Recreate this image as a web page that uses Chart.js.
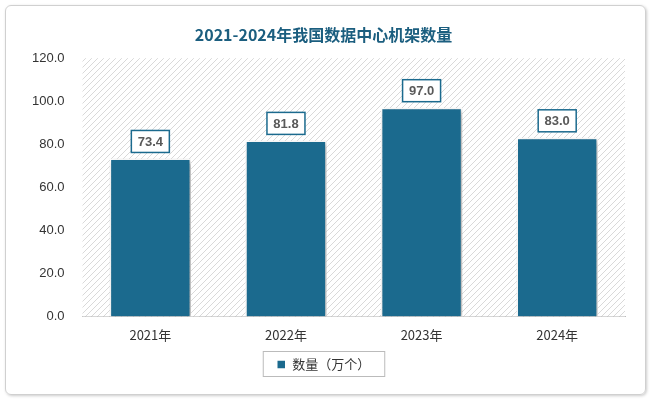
<!DOCTYPE html>
<html><head><meta charset="utf-8">
<script src="https://cdn.jsdelivr.net/npm/chart.js@4"></script>
<style>
body{margin:0;background:#fff;}
#wrap{position:absolute;left:5px;top:5px;width:639px;height:388px;border:1px solid #d0d0d0;border-radius:6px;box-shadow:1px 1px 3px #ccc;}
canvas{position:absolute;left:0;top:0;}
</style></head><body>
<div id="wrap"></div>
<canvas id="c" width="651" height="400"></canvas>
<script>
const categories=["2021年","2022年","2023年","2024年"];
const values=[73.4,81.8,97.0,83.0];
const yTicks=[0,20,40,60,80,100,120];
const seriesName="数量（万个）";

const hatch=(()=>{const p=document.createElement('canvas');p.width=6;p.height=6;const g=p.getContext('2d');
g.fillStyle='#fff';g.fillRect(0,0,6,6);g.strokeStyle='#d9d9d9';g.lineWidth=1;
g.beginPath();g.moveTo(0,6);g.lineTo(6,0);g.moveTo(-3,3);g.lineTo(3,-3);g.moveTo(3,9);g.lineTo(9,3);g.stroke();
return document.getElementById('c').getContext('2d').createPattern(p,'repeat');})();

const bgPlugin={id:'bg',beforeDatasetsDraw(ch){const a=ch.chartArea,x=ch.ctx;x.save();x.fillStyle=hatch;x.fillRect(a.left,a.top,a.right-a.left,a.bottom-a.top);x.restore();}};
const labelPlugin={id:'lbl',afterDatasetsDraw(ch){const x=ch.ctx;const m=ch.getDatasetMeta(0);x.save();
x.font='bold 13px "Liberation Sans", Arial';x.textAlign='center';x.textBaseline='middle';
m.data.forEach((b,i)=>{const t=values[i].toFixed(1);const w=38,h=22;const cx=b.x,cy=b.y-17;
x.fillStyle='#fff';x.fillRect(cx-w/2,cy-h/2,w,h);x.strokeStyle='#1b6a8e';x.lineWidth=1.5;x.strokeRect(cx-w/2,cy-h/2,w,h);
x.fillStyle='#595959';x.fillText(t,cx,cy+1);});x.restore();}};
const shadowPlugin={id:'sh',beforeDatasetDraw(ch){const x=ch.ctx;x.save();x.shadowColor='rgba(0,0,0,0.35)';x.shadowBlur=5;x.shadowOffsetX=2;x.shadowOffsetY=2;},afterDatasetDraw(ch){ch.ctx.restore();}};

new Chart(document.getElementById('c'),{type:'bar',
data:{labels:categories,datasets:[{label:seriesName,data:values,backgroundColor:'#1b6a8e',borderColor:'#fff',borderWidth:1.5,categoryPercentage:0.6,barPercentage:1.0}]},
options:{responsive:false,animation:false,devicePixelRatio:1,
layout:{padding:{left:22,right:26,top:13,bottom:19}},
plugins:{title:{display:true,text:'2021-2024年我国数据中心机架数量',color:'#1b5e7f',font:{size:16,weight:'bold',family:'"Noto Sans CJK SC"'},padding:{top:12,bottom:14}},
legend:{position:'bottom',labels:{color:'#333',font:{size:13,family:'"Noto Sans CJK SC"'},boxWidth:9,boxHeight:9,padding:12}},tooltip:{enabled:false}},
scales:{x:{grid:{display:false},border:{color:'#bbb'},ticks:{color:'#333',font:{size:13,family:'"Noto Sans CJK SC"'}}},
y:{min:0,max:120,grid:{display:false},border:{display:false},afterBuildTicks(a){a.ticks=yTicks.map(v=>({value:v}));},
ticks:{color:'#333',font:{size:13,family:'"Liberation Sans"'},padding:10,callback:v=>v.toFixed(1)}}}},
plugins:[bgPlugin,shadowPlugin,labelPlugin,{id:'legbox',afterDraw(ch){const l=ch.legend;const x=ch.ctx;x.save();x.strokeStyle='#bbb';x.lineWidth=1;x.strokeRect(l.left+ (l.width-l.legendHitBoxes[0].width)/2-14+0.5,l.top+5.5,l.legendHitBoxes[0].width+28,l.height-10);x.restore();}}]});
</script></body></html>
